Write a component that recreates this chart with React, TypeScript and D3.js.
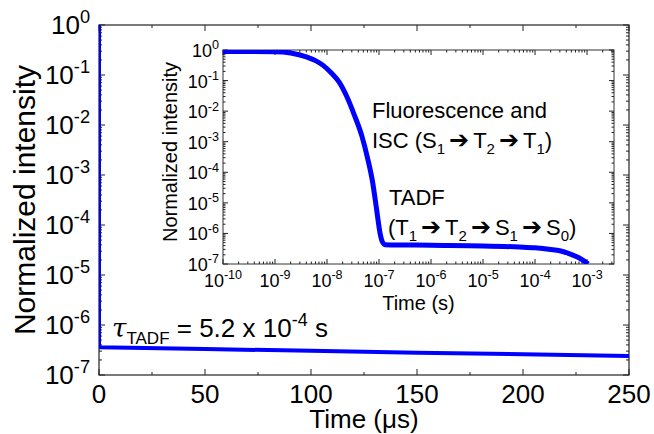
import React, { useEffect, useRef } from "react";
import * as d3 from "d3";

// main panel: linear time (µs) vs log intensity
const mainTime = [0, 0, 50, 100, 150, 200, 250];
const mainIntensity = [1, 3.6e-7, 3.3e-7, 3.05e-7, 2.8e-7, 2.6e-7, 2.4e-7];
const mainXTicks = [0, 50, 100, 150, 200, 250];
const mainXMinor = [25, 75, 125, 175, 225];
const decadeExps = [0, -1, -2, -3, -4, -5, -6, -7];

// inset: log time (s) vs log intensity
const insetXExps = [-10, -9, -8, -7, -6, -5, -4, -3];
const insetTime = [
  1e-10, 1e-9, 2e-9, 4e-9, 6e-9, 8.3e-9, 1.2e-8, 1.7e-8, 2.4e-8, 3.3e-8, 4.7e-8,
  6e-8, 7.5e-8, 9e-8, 1.05e-7, 1.15e-7, 1.3e-7, 1e-6, 1e-5, 5e-5, 1e-4, 2e-4,
  3e-4, 4.5e-4, 6e-4, 8e-4, 1.05e-3,
];
const insetIntensity = [
  0.9, 0.88, 0.8, 0.6, 0.45, 0.32, 0.18, 0.09, 0.03, 0.008, 1.5e-3, 3e-4, 5e-5,
  6e-6, 1e-6, 5.5e-7, 4.3e-7, 4.1e-7, 3.9e-7, 3.6e-7, 3.4e-7, 3.0e-7, 2.7e-7,
  2.2e-7, 1.8e-7, 1.4e-7, 1e-7,
];

const FONT = "'Liberation Sans', Arial, sans-serif";

const App = () => {
  const svgRef = useRef<SVGSVGElement>(null);

  useEffect(() => {
    const svg = d3.select(svgRef.current);
    svg.selectAll("*").remove();

    const m = { left: 99, right: 629, top: 25, bottom: 375 };
    const ins = { left: 223, right: 614, top: 50, bottom: 264 };

    const x = d3.scaleLinear().domain([0, 250]).range([m.left, m.right]);
    const y = d3.scaleLog().domain([1e-7, 1]).range([m.bottom, m.top]);
    const xi = d3.scaleLog().domain([1e-10, 3.3e-3]).range([ins.left, ins.right]);
    const yi = d3.scaleLog().domain([1e-7, 1]).range([ins.bottom, ins.top]);

    const defs = svg.append("defs");
    defs.append("clipPath").attr("id", "mainClip").append("rect")
      .attr("x", m.left).attr("y", m.top)
      .attr("width", m.right - m.left).attr("height", m.bottom - m.top);
    defs.append("clipPath").attr("id", "insClip").append("rect")
      .attr("x", ins.left).attr("y", ins.top)
      .attr("width", ins.right - ins.left).attr("height", ins.bottom - ins.top);

    const minorLog = (exps: number[]) => {
      const out: number[] = [];
      exps.forEach((e) => {
        for (let k = 2; k <= 9; k++) out.push(k * Math.pow(10, e));
      });
      return out;
    };

    const powLabel = (g: any, px: number, py: number, exp: number, size: number, anchor: string) => {
      const t = g.append("text")
        .attr("x", px).attr("y", py)
        .attr("text-anchor", anchor)
        .attr("font-family", FONT)
        .attr("font-size", size)
        .attr("fill", "#000");
      t.append("tspan").text("10");
      t.append("tspan").attr("dy", -size * 0.42).attr("font-size", size * 0.7).text(exp);
    };

    const tick = (g: any, x1: number, y1: number, x2: number, y2: number) =>
      g.append("line").attr("x1", x1).attr("y1", y1).attr("x2", x2).attr("y2", y2)
        .attr("stroke", "#222").attr("stroke-width", 1);

    // ---------- main panel ----------
    const main = svg.append("g");
    main.append("rect")
      .attr("x", m.left).attr("y", m.top)
      .attr("width", m.right - m.left).attr("height", m.bottom - m.top)
      .attr("fill", "#fff").attr("stroke", "#222").attr("stroke-width", 1.2);

    mainXTicks.forEach((v) => {
      tick(main, x(v), m.bottom, x(v), m.bottom - 6);
      tick(main, x(v), m.top, x(v), m.top + 6);
      main.append("text")
        .attr("x", x(v)).attr("y", 403)
        .attr("text-anchor", "middle")
        .attr("font-family", FONT).attr("font-size", 26)
        .text(v);
    });
    mainXMinor.forEach((v) => {
      tick(main, x(v), m.bottom, x(v), m.bottom - 3);
      tick(main, x(v), m.top, x(v), m.top + 3);
    });
    const yMajor = decadeExps.map((e) => Math.pow(10, e));
    yMajor.forEach((v, i) => {
      tick(main, m.left, y(v), m.left + 6, y(v));
      tick(main, m.right, y(v), m.right - 6, y(v));
      powLabel(main, 90, y(v) + 9, decadeExps[i], 26, "end");
    });
    minorLog(decadeExps.slice(1)).forEach((v) => {
      tick(main, m.left, y(v), m.left + 3, y(v));
      tick(main, m.right, y(v), m.right - 3, y(v));
    });

    const mainLine = d3.line<number>()
      .x((d, i) => x(mainTime[i]))
      .y((d) => y(d));
    main.append("path")
      .datum(mainIntensity)
      .attr("clip-path", "url(#mainClip)")
      .attr("d", mainLine)
      .attr("fill", "none")
      .attr("stroke", "#0000ff")
      .attr("stroke-width", 4);

    main.append("text")
      .attr("transform", `translate(35, ${(m.top + m.bottom) / 2}) rotate(-90)`)
      .attr("text-anchor", "middle")
      .attr("font-family", FONT).attr("font-size", 30)
      .text("Normalized intensity");
    main.append("text")
      .attr("x", (m.left + m.right) / 2).attr("y", 428)
      .attr("text-anchor", "middle")
      .attr("font-family", FONT).attr("font-size", 26)
      .text("Time (μs)");

    const tau = main.append("text")
      .attr("x", 112).attr("y", 337)
      .attr("font-family", FONT).attr("font-size", 26);
    tau.append("tspan").attr("font-style", "italic").attr("font-family", "'DejaVu Serif', serif").text("τ");
    tau.append("tspan").attr("dy", 7).attr("font-size", 17).text("TADF");
    tau.append("tspan").attr("dy", -7).text(" = 5.2 x 10");
    tau.append("tspan").attr("dy", -11).attr("font-size", 18).text("-4");
    tau.append("tspan").attr("dy", 11).text(" s");

    // ---------- inset ----------
    const g = svg.append("g");
    g.append("rect")
      .attr("x", ins.left).attr("y", ins.top)
      .attr("width", ins.right - ins.left).attr("height", ins.bottom - ins.top)
      .attr("fill", "#fff").attr("stroke", "#333").attr("stroke-width", 1);

    insetXExps.forEach((e) => {
      const v = Math.pow(10, e);
      tick(g, xi(v), ins.bottom, xi(v), ins.bottom - 5);
      tick(g, xi(v), ins.top, xi(v), ins.top + 5);
      powLabel(g, xi(v), 287, e, 18, "middle");
    });
    minorLog(insetXExps).filter((v) => v < 3.3e-3).forEach((v) => {
      tick(g, xi(v), ins.bottom, xi(v), ins.bottom - 2.5);
      tick(g, xi(v), ins.top, xi(v), ins.top + 2.5);
    });
    yMajor.forEach((v, i) => {
      tick(g, ins.left, yi(v), ins.left + 5, yi(v));
      tick(g, ins.right, yi(v), ins.right - 5, yi(v));
      powLabel(g, 219, yi(v) + 7, decadeExps[i], 18, "end");
    });
    minorLog(decadeExps.slice(1)).forEach((v) => {
      tick(g, ins.left, yi(v), ins.left + 2.5, yi(v));
      tick(g, ins.right, yi(v), ins.right - 2.5, yi(v));
    });

    const insLine = d3.line<number>()
      .x((d, i) => xi(insetTime[i]))
      .y((d) => yi(d))
      .curve(d3.curveMonotoneX);
    g.append("path")
      .datum(insetIntensity)
      .attr("clip-path", "url(#insClip)")
      .attr("d", insLine)
      .attr("fill", "none")
      .attr("stroke", "#0000ff")
      .attr("stroke-width", 5)
      .attr("stroke-linejoin", "round");

    g.append("text")
      .attr("transform", `translate(177, 152) rotate(-90)`)
      .attr("text-anchor", "middle")
      .attr("font-family", FONT).attr("font-size", 20)
      .text("Normalized intensity");
    g.append("text")
      .attr("x", (ins.left + ins.right) / 2).attr("y", 310)
      .attr("text-anchor", "middle")
      .attr("font-family", FONT).attr("font-size", 20)
      .text("Time (s)");

    // annotations with subscripts and arrows
    const rich = (px: number, py: number, parts: [string, string?][]) => {
      const t = g.append("text")
        .attr("x", px).attr("y", py)
        .attr("font-family", FONT).attr("font-size", 22);
      let down = false;
      parts.forEach(([s, sub]) => {
        if (s.startsWith("➔")) {
          t.append("tspan").attr("dy", down ? -6 : 0).attr("dx", 4)
            .attr("font-size", 24).text("➔");
          t.append("tspan").attr("dx", 4).text(s.slice(1));
        } else {
          t.append("tspan").attr("dy", down ? -6 : 0).text(s);
        }
        down = false;
        if (sub) {
          t.append("tspan").attr("dy", 6).attr("font-size", 15).text(sub);
          down = true;
        }
      });
    };
    g.append("text")
      .attr("x", 372).attr("y", 118)
      .attr("font-family", FONT).attr("font-size", 22)
      .text("Fluorescence and");
    rich(372, 148, [["ISC (S", "1"], ["➔T", "2"], ["➔T", "1"], [")"]]);
    g.append("text")
      .attr("x", 389).attr("y", 205)
      .attr("font-family", FONT).attr("font-size", 22)
      .text("TADF");
    rich(388, 235, [["(T", "1"], ["➔T", "2"], ["➔S", "1"], ["➔S", "0"], [")"]]);
  }, []);

  return (
    <svg
      ref={svgRef}
      width={654}
      height={434}
      style={{ position: "absolute", left: 0, top: 0, background: "#fff" }}
    />
  );
};

export default App;
